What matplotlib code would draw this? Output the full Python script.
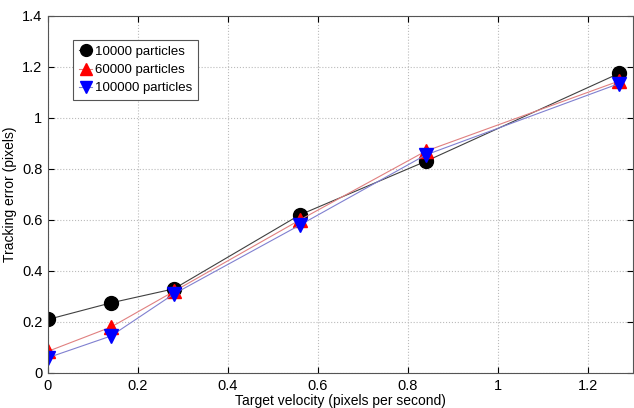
import numpy as np
import matplotlib.pyplot as plt

plt.rcParams['font.family'] = ['Liberation Sans', 'DejaVu Sans']

velocity = [0.0, 0.14, 0.28, 0.56, 0.84, 1.27]
err_10000 = [0.21, 0.275, 0.33, 0.62, 0.83, 1.175]
err_60000 = [0.085, 0.18, 0.32, 0.60, 0.87, 1.145]
err_100000 = [0.06, 0.145, 0.31, 0.58, 0.855, 1.135]

fig = plt.figure(figsize=(6.34, 4.08), dpi=100)
ax = fig.add_axes([0.0757, 0.0858, 0.922, 0.875])

ax.plot(velocity, err_10000, color='#404040', lw=0.8, marker='o', ms=10,
        mfc='black', mec='black', label='10000 particles')
ax.plot(velocity, err_60000, color='#e08080', lw=0.8, marker='^', ms=10,
        mfc='red', mec='red', label='60000 particles')
ax.plot(velocity, err_100000, color='#8080d0', lw=0.8, marker='v', ms=10,
        mfc='blue', mec='blue', label='100000 particles')

ax.set_xlim(0, 1.3)
ax.set_ylim(0, 1.4)
ax.set_xticks(np.arange(0, 1.21, 0.2))
ax.set_xticklabels(['0', '0.2', '0.4', '0.6', '0.8', '1', '1.2'])
ax.set_yticks(np.arange(0, 1.41, 0.2))
ax.set_yticklabels(['0', '0.2', '0.4', '0.6', '0.8', '1', '1.2', '1.4'])
ax.tick_params(direction='in', top=True, right=True, labelsize=10.5, length=4, pad=4)
ax.grid(True, linestyle=':', color='#bbbbbb', lw=0.8)
for s in ax.spines.values():
    s.set_color('#555555')

ax.set_xlabel('Target velocity (pixels per second)', fontsize=10, labelpad=1)
ax.set_ylabel('Tracking error (pixels)', fontsize=10, labelpad=4)

leg = ax.legend(loc='upper left', bbox_to_anchor=(0.043, 0.933), borderaxespad=0,
                fontsize=9.5, handlelength=1.0, handletextpad=0.2, borderpad=0.45,
                labelspacing=0.45, fancybox=False, framealpha=1, markerscale=0.85)
leg.get_frame().set_edgecolor('#555555')
leg.get_frame().set_linewidth(0.8)

fig.savefig('out.png', dpi=100)
